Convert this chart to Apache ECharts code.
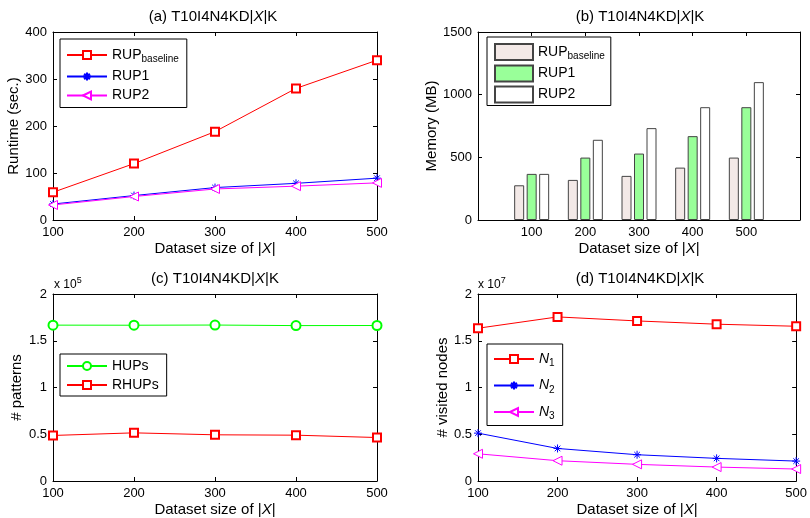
<!DOCTYPE html>
<html>
<head>
<meta charset="utf-8">
<script src="https://cdn.jsdelivr.net/npm/echarts@6/dist/echarts.min.js"></script>
<style>
html, body { margin: 0; padding: 0; background: #fff; }
#main { width: 810px; height: 518px; }
</style>
</head>
<body>
<div id="main"></div>
<script>
// 数据
var sizes = [100, 200, 300, 400, 500];
var runtimeBaseline = [59, 120, 188, 280, 340];
var runtimeRup1 = [34, 52, 69, 78, 89];
var runtimeRup2 = [32, 50, 66, 72, 79];
var memBaseline = [277, 320, 352, 418, 498];
var memRup1 = [368, 498, 530, 669, 900];
var memRup2 = [368, 640, 733, 900, 1100];
var hups = [166700, 166600, 166800, 166200, 166300];
var rhups = [48700, 51500, 49400, 49000, 46500];
var n1 = [16340000, 17550000, 17120000, 16770000, 16550000];
var n2 = [5120000, 3480000, 2810000, 2420000, 2130000];
var n3 = [2910000, 2170000, 1780000, 1490000, 1280000];

var FONT = 'Liberation Sans';
var STAR = 'path://M5,0L5,10M0,5L10,5M1.5,1.5L8.5,8.5M1.5,8.5L8.5,1.5';
var LTRI = 'path://M0,5L10,0L10,10Z';

function pairs(ys) {
    return sizes.map(function (x, i) { return [x, ys[i]]; });
}

var legendText = {
    'a-base': '{n|RUP}{s|baseline}',
    'a-rup1': '{n|RUP1}',
    'a-rup2': '{n|RUP2}',
    'b-base': '{n|RUP}{s|baseline}',
    'b-rup1': '{n|RUP1}',
    'b-rup2': '{n|RUP2}',
    'hups': '{n|HUPs}',
    'rhups': '{n|RHUPs}',
    'n1': '{i|N}{s|1}',
    'n2': '{i|N}{s|2}',
    'n3': '{i|N}{s|3}'
};
var legendRich = {
    n: { fontFamily: FONT, fontSize: 14, color: '#000' },
    i: { fontFamily: FONT, fontSize: 14, fontStyle: 'italic', color: '#000' },
    s: { fontFamily: FONT, fontSize: 10, color: '#000', padding: [9, 0, 0, 0] }
};
var nameRich = {
    n: { fontFamily: FONT, fontSize: 15, color: '#000' },
    i: { fontFamily: FONT, fontSize: 15, fontStyle: 'italic', color: '#000' }
};

var grids = [
    { left: 53, top: 32, width: 324, height: 188 },
    { left: 478, top: 32, width: 322, height: 188 },
    { left: 53, top: 294, width: 324, height: 188 },
    { left: 478, top: 294, width: 324, height: 188 }
];
var yNames = ['Runtime (sec.)', 'Memory (MB)', '# patterns', '# visited nodes'];
var yNameGaps = [31, 37, 29, 26];
var yMax = [400, 1500, 200000, 20000000];
var yInterval = [100, 500, 50000, 5000000];
var yScale = [1, 1, 100000, 10000000];

var xAxes = [], yAxes = [];
grids.forEach(function (g, k) {
    var isBar = (k === 1);
    var xmin = isBar ? 0 : 100, xmax = isBar ? 600 : 500;
    xAxes.push({
        type: 'value', gridIndex: k, min: xmin, max: xmax, interval: 100,
        name: '{n|Dataset size of |}{i|X}{n||}', nameLocation: 'middle', nameGap: 21,
        nameTextStyle: { rich: nameRich },
        axisLine: { show: true, onZero: false, lineStyle: { color: '#000', width: 1 } },
        axisTick: { show: true, inside: true, length: 4, lineStyle: { color: '#000' } },
        axisLabel: {
            margin: 6, fontFamily: FONT, fontSize: 13, color: '#000',
            showMinLabel: !isBar, showMaxLabel: !isBar
        },
        splitLine: { show: false }
    });
    xAxes.push({
        type: 'value', gridIndex: k, min: xmin, max: xmax, interval: 100, position: 'top',
        axisLine: { show: true, onZero: false, lineStyle: { color: '#000', width: 1 } },
        axisTick: { show: true, inside: true, length: 4, lineStyle: { color: '#000' } },
        axisLabel: { show: false },
        splitLine: { show: false }
    });
    var sc = yScale[k];
    yAxes.push({
        type: 'value', gridIndex: k, min: 0, max: yMax[k], interval: yInterval[k],
        name: yNames[k], nameLocation: 'middle', nameGap: yNameGaps[k],
        nameTextStyle: { fontFamily: FONT, fontSize: 15, color: '#000' },
        axisLine: { show: true, onZero: false, lineStyle: { color: '#000', width: 1 } },
        axisTick: { show: true, inside: true, length: 4, lineStyle: { color: '#000' } },
        axisLabel: {
            margin: 6, fontFamily: FONT, fontSize: 13, color: '#000',
            formatter: function (v) { return String(Math.round(v / sc * 100) / 100); }
        },
        splitLine: { show: false }
    });
    yAxes.push({
        type: 'value', gridIndex: k, min: 0, max: yMax[k], interval: yInterval[k], position: 'right',
        axisLine: { show: true, onZero: false, lineStyle: { color: '#000', width: 1 } },
        axisTick: { show: true, inside: true, length: 4, lineStyle: { color: '#000' } },
        axisLabel: { show: false },
        splitLine: { show: false }
    });
});

function lineSeries(name, k, ys, color, symbol, size, fill) {
    return {
        name: name, type: 'line', xAxisIndex: k * 2, yAxisIndex: k * 2,
        data: pairs(ys), symbol: symbol, symbolSize: size,
        lineStyle: { color: color, width: 1 },
        itemStyle: { color: fill || color, borderColor: color, borderWidth: 1 },
        emphasis: { disabled: true }
    };
}
function barSeries(name, ys, color) {
    return {
        name: name, type: 'bar', xAxisIndex: 2, yAxisIndex: 2,
        data: pairs(ys), barWidth: 10, barGap: '25%',
        itemStyle: { color: color, borderColor: '#444', borderWidth: 1, borderRadius: 0 },
        emphasis: { disabled: true }
    };
}

var series = [
    lineSeries('a-base', 0, runtimeBaseline, '#ff0000', 'emptyRect', 8),
    lineSeries('a-rup1', 0, runtimeRup1, '#0000ff', STAR, 8),
    lineSeries('a-rup2', 0, runtimeRup2, '#ff00ff', LTRI, 9, '#fff'),
    barSeries('b-base', memBaseline, '#f3e9e7'),
    barSeries('b-rup1', memRup1, '#99ff99'),
    barSeries('b-rup2', memRup2, '#ffffff'),
    lineSeries('hups', 2, hups, '#00ff00', 'emptyCircle', 9),
    lineSeries('rhups', 2, rhups, '#ff0000', 'emptyRect', 8),
    lineSeries('n1', 3, n1, '#ff0000', 'emptyRect', 8),
    lineSeries('n2', 3, n2, '#0000ff', STAR, 8),
    lineSeries('n3', 3, n3, '#ff00ff', LTRI, 9, '#fff')
];

function legend(data, left, top, gap, pad) {
    return {
        data: data, orient: 'vertical', left: left, top: top,
        itemWidth: 40, itemHeight: 10, itemGap: gap,
        padding: pad,
        borderColor: '#000', borderWidth: 1, backgroundColor: '#fff', borderRadius: 0,
        selectedMode: false,
        formatter: function (name) { return legendText[name]; },
        textStyle: { rich: legendRich }
    };
}
var barLegend = legend(['b-base', 'b-rup1', 'b-rup2'], 487, 37, 3, [6, 6, 2, 7]);
barLegend.icon = 'rect';
barLegend.itemWidth = 38;
barLegend.itemHeight = 16;

function title(label, x, y) {
    return {
        type: 'text', x: x, y: y,
        style: {
            text: '{n|' + label + ' T10I4N4KD|}{i|X}{n||K}',
            align: 'center', verticalAlign: 'middle', rich: nameRich
        }
    };
}
function power(exp, x, y) {
    return {
        type: 'text', x: x, y: y,
        style: {
            text: '{n|x 10}{p|' + exp + '}',
            rich: {
                n: { fontFamily: FONT, fontSize: 12, color: '#000' },
                p: { fontFamily: FONT, fontSize: 9, color: '#000', padding: [0, 0, 8, 0] }
            }
        }
    };
}

var myChart = echarts.init(document.getElementById('main'));
var option = {
    animation: false,
    backgroundColor: '#fff',
    grid: grids,
    xAxis: xAxes,
    yAxis: yAxes,
    legend: [
        legend(['a-base', 'a-rup1', 'a-rup2'], 60, 39, 5, [9, 8, 5, 6]),
        barLegend,
        legend(['hups', 'rhups'], 60, 354, 5, [5, 8, 4, 6]),
        legend(['n1', 'n2', 'n3'], 487, 344, 10, [8, 8, 4, 6])
    ],
    series: series,
    graphic: [
        title('(a)', 213, 17),
        title('(b)', 640, 17),
        title('(c)', 215, 279),
        title('(d)', 640, 279),
        power('5', 54, 276),
        power('7', 478, 276)
    ]
};
myChart.setOption(option);
</script>
</body>
</html>
